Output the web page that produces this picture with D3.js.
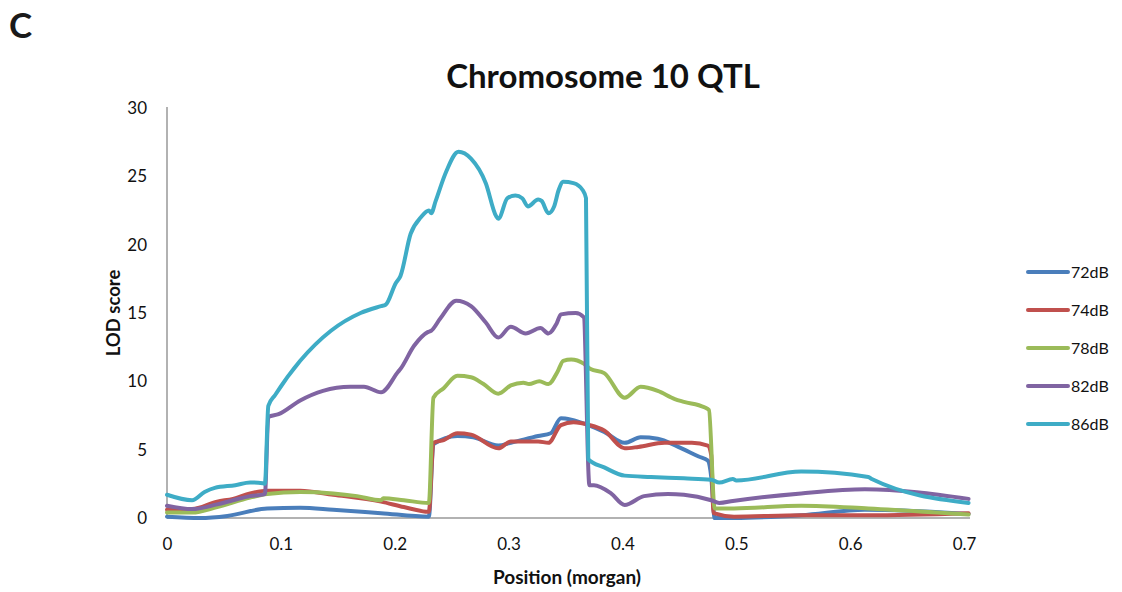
<!DOCTYPE html>
<html><head><meta charset="utf-8">
<script src="https://d3js.org/d3.v7.min.js"></script>
<style>body{margin:0;background:#fff}svg{display:block}text{font-family:Lato,"Open Sans",sans-serif}</style>
</head><body>
<svg id="chart" width="1122" height="592"></svg>
<script>
const seriesNames = ["72dB","74dB","78dB","82dB","86dB"];
const seriesColors = ["#4A7EBB","#C0504D","#9BBB59","#8064A2","#3EACC6"];
const xTicks = [0,0.1,0.2,0.3,0.4,0.5,0.6,0.7];
const yTicks = [0,5,10,15,20,25,30];

const pos72 = [0,0.029,0.053,0.088,0.117,0.146,0.188,0.23,0.234,0.255,0.269,0.291,0.302,0.326,0.337,0.346,0.355,0.37,0.384,0.402,0.416,0.431,0.449,0.467,0.475,0.478,0.481,0.498,0.557,0.613,0.704];
const lod72 = [0.1,0.0,0.15,0.7,0.75,0.6,0.35,0.1,5.4,6.0,5.9,5.3,5.5,6.0,6.2,7.3,7.2,6.8,6.3,5.5,5.9,5.8,5.2,4.5,4.2,3.0,0.0,0.0,0.2,0.6,0.3];

const pos74 = [0,0.022,0.044,0.058,0.073,0.088,0.117,0.146,0.188,0.208,0.23,0.234,0.243,0.255,0.267,0.291,0.302,0.326,0.335,0.346,0.357,0.371,0.384,0.402,0.414,0.437,0.461,0.475,0.478,0.48,0.498,0.557,0.616,0.704];
const lod74 = [0.6,0.65,1.2,1.4,1.8,2.0,2.0,1.7,1.2,0.8,0.45,5.5,5.7,6.2,6.1,5.1,5.6,5.6,5.5,6.8,7.0,6.8,6.4,5.1,5.2,5.5,5.5,5.3,4.6,0.35,0.1,0.2,0.2,0.35];

const pos78 = [0,0.022,0.044,0.073,0.088,0.117,0.146,0.167,0.188,0.19,0.208,0.23,0.234,0.243,0.255,0.267,0.278,0.291,0.302,0.313,0.318,0.327,0.335,0.343,0.348,0.355,0.366,0.372,0.384,0.402,0.416,0.431,0.446,0.454,0.472,0.476,0.481,0.498,0.557,0.616,0.704];
const lod78 = [0.4,0.4,0.8,1.5,1.75,1.9,1.8,1.6,1.3,1.45,1.3,1.1,8.8,9.5,10.4,10.3,9.8,9.1,9.7,9.9,9.8,10.0,9.8,10.7,11.5,11.6,11.3,10.9,10.6,8.8,9.6,9.3,8.7,8.5,8.1,7.9,0.7,0.7,0.9,0.7,0.25];

const pos82 = [0,0.022,0.044,0.058,0.073,0.086,0.089,0.098,0.117,0.137,0.161,0.173,0.188,0.203,0.205,0.217,0.229,0.232,0.24,0.254,0.267,0.28,0.291,0.302,0.315,0.328,0.335,0.342,0.346,0.359,0.366,0.371,0.375,0.39,0.402,0.419,0.44,0.454,0.478,0.485,0.497,0.557,0.613,0.704];
const lod82 = [0.9,0.65,1.0,1.3,1.6,1.75,7.4,7.6,8.6,9.3,9.6,9.6,9.2,10.7,10.9,12.6,13.6,13.7,14.6,15.9,15.5,14.3,13.2,14.0,13.5,13.9,13.5,14.2,14.9,15.0,14.7,2.4,2.4,1.8,0.95,1.6,1.75,1.7,1.3,1.1,1.25,1.8,2.1,1.4];

const pos86 = [0,0.022,0.033,0.042,0.06,0.073,0.084,0.086,0.089,0.095,0.117,0.144,0.17,0.188,0.192,0.201,0.205,0.214,0.223,0.23,0.232,0.236,0.245,0.256,0.267,0.28,0.289,0.291,0.299,0.306,0.312,0.317,0.326,0.329,0.335,0.34,0.344,0.348,0.357,0.365,0.368,0.37,0.384,0.402,0.425,0.454,0.478,0.485,0.497,0.5,0.557,0.616,0.619,0.704];
const lod86 = [1.7,1.3,1.9,2.2,2.4,2.6,2.55,2.5,8.2,9.0,11.5,13.7,15.0,15.5,15.6,17.2,17.7,20.8,22.0,22.5,22.3,23.2,25.3,26.8,26.3,24.5,22.1,21.9,23.4,23.6,23.4,22.8,23.3,23.2,22.3,22.8,24.0,24.6,24.5,24.0,23.4,4.3,3.7,3.1,3.0,2.9,2.8,2.6,2.85,2.75,3.4,3.0,2.85,1.1];

const allPos = [pos72,pos74,pos78,pos82,pos86];
const allLod = [lod72,lod74,lod78,lod82,lod86];

const svg = d3.select("#chart");
const x = d3.scaleLinear().domain([0,0.7]).range([167,964]);
const y = d3.scaleLinear().domain([0,30]).range([518,108]);

// axes
const xAxis = d3.axisBottom(x).tickValues(xTicks).tickSize(0).tickPadding(20).tickFormat(d=>d===0?"0":d3.format(".1f")(d));
const gx = svg.append("g").attr("transform","translate(0,518)").call(xAxis);
gx.select(".domain").remove();
gx.selectAll("text").attr("font-size",17).attr("fill","#111").attr("font-family","Lato,sans-serif");
svg.append("line").attr("x1",167).attr("x2",970).attr("y1",518).attr("y2",518).attr("stroke","#999").attr("stroke-width",1.5);

const yAxis = d3.axisLeft(y).tickValues(yTicks).tickSize(0).tickPadding(20);
const gy = svg.append("g").attr("transform","translate(167,0)").call(yAxis);
gy.select(".domain").remove();
gy.selectAll("text").attr("font-size",17).attr("fill","#111").attr("font-family","Lato,sans-serif");
svg.append("line").attr("x1",167).attr("x2",167).attr("y1",107).attr("y2",518).attr("stroke","#999").attr("stroke-width",1.5);

// lines
const line = d3.line().x(d=>x(d[0])).y(d=>y(d[1])).curve(d3.curveMonotoneX);
allPos.forEach((p,i)=>{
  const data = p.map((v,j)=>[v,allLod[i][j]]);
  svg.append("path").datum(data).attr("d",line).attr("fill","none")
    .attr("stroke",seriesColors[i]).attr("stroke-width",4).attr("stroke-linejoin","round").attr("stroke-linecap","round");
});

// legend
seriesNames.forEach((n,i)=>{
  const ly = 272 + i*38;
  svg.append("line").attr("x1",1028).attr("x2",1068).attr("y1",ly).attr("y2",ly)
    .attr("stroke",seriesColors[i]).attr("stroke-width",4).attr("stroke-linecap","round");
  svg.append("text").attr("x",1071).attr("y",ly).attr("dy","0.36em").attr("font-size",16).attr("fill","#111").text(n);
});

// titles
svg.append("text").attr("x",603).attr("y",88).attr("text-anchor","middle").attr("font-size",33).attr("font-weight","bold").attr("fill","#111").text("Chromosome 10 QTL");
svg.append("text").attr("x",567).attr("y",584).attr("text-anchor","middle").attr("font-size",19).attr("font-weight","bold").attr("fill","#111").text("Position (morgan)");
svg.append("text").attr("transform","translate(120,313) rotate(-90)").attr("text-anchor","middle").attr("font-size",18.5).attr("font-weight","bold").attr("fill","#111").text("LOD score");
svg.append("text").attr("x",9).attr("y",38).attr("font-size",35).attr("font-weight","bold").attr("fill","#1a1a1a").attr("font-family","'Liberation Sans',Arial,sans-serif").text("C");
</script>
</body></html>
